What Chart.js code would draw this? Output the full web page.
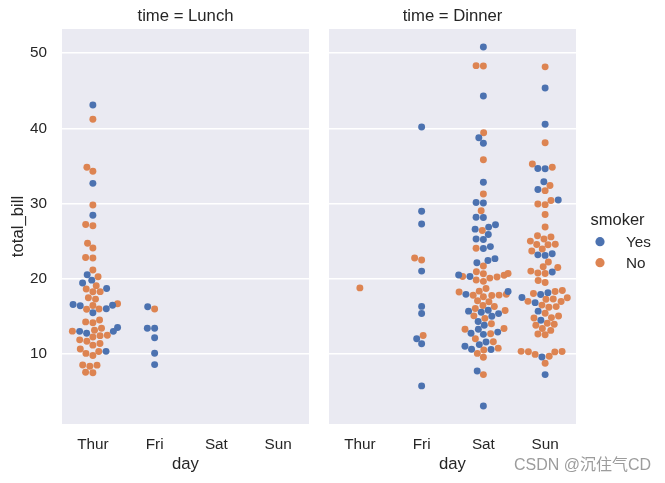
<!DOCTYPE html>
<html>
<head>
<meta charset="utf-8">
<script src="https://cdn.jsdelivr.net/npm/chart.js@4/dist/chart.umd.min.js"></script>
<style>
html,body{margin:0;padding:0;background:#fff;}
#wrap{position:relative;width:665px;height:483px;overflow:hidden;background:#fff;}
#c1{position:absolute;left:0;top:0;}
#c2{position:absolute;left:315px;top:0;}
#wm{position:absolute;left:514px;top:457px;font-size:16px;line-height:16px;font-family:"Liberation Sans","Noto Sans CJK SC",sans-serif;color:#9c9c9c;white-space:nowrap;}
</style>
</head>
<body>
<div id="wrap">
  <canvas id="c1" width="315" height="483"></canvas>
  <canvas id="c2" width="350" height="483"></canvas>
  <div id="wm">CSDN @沉住气CD</div>
</div>
<script>
// ---------------- data ----------------
const days = ['Thur', 'Fri', 'Sat', 'Sun'];
const hues = ['Yes', 'No'];
const yTicks = [10, 20, 30, 40, 50];

// Lunch
const lunchThurYes = [19.44, 32.68, 16.0, 19.81, 28.44, 15.48, 16.58, 10.34, 43.11, 13.0, 13.51, 18.71, 12.74, 13.0, 16.4, 20.53, 16.47];
const lunchThurNo = [27.2, 22.76, 17.29, 16.66, 10.07, 15.98, 34.83, 13.03, 18.28, 24.71, 21.16, 10.65, 12.43, 24.08, 11.69, 13.42, 14.26, 15.95, 12.48, 29.8, 8.52, 14.52, 11.38, 22.82, 19.08, 20.27, 11.17, 12.26, 18.26, 8.51, 10.33, 14.15, 13.16, 17.47, 34.3, 41.19, 27.05, 16.43, 8.35, 18.64, 11.87, 9.78, 7.51, 7.56];
const lunchFriYes = [12.16, 13.42, 8.58, 13.42, 16.27, 10.09];
const lunchFriNo = [15.98];
const lunchSatYes = [], lunchSatNo = [], lunchSunYes = [], lunchSunNo = [];

// Dinner
const dinnerThurYes = [];
const dinnerThurNo = [18.78];
const dinnerFriYes = [28.97, 5.75, 16.32, 40.17, 27.28, 12.03, 21.01, 11.35, 15.38];
const dinnerFriNo = [22.49, 22.75, 12.46];
const dinnerSatYes = [38.01, 11.24, 20.29, 13.81, 11.02, 18.29, 3.07, 15.01, 26.86, 25.28, 17.92, 44.3, 22.42, 15.36, 20.49, 25.21, 14.31, 10.59, 10.63, 50.81, 15.81, 26.59, 38.73, 24.27, 12.76, 30.06, 25.89, 13.27, 28.17, 12.9, 28.15, 11.59, 7.74, 30.14, 22.12, 24.01, 15.69, 15.53, 12.6, 32.83, 27.18, 22.67];
const dinnerSatNo = [20.65, 17.92, 20.29, 15.77, 39.42, 19.82, 17.81, 13.37, 12.69, 21.7, 19.65, 9.55, 18.35, 15.06, 20.69, 17.78, 24.06, 16.31, 16.93, 18.69, 31.27, 16.04, 26.41, 48.27, 17.59, 20.08, 16.45, 20.23, 12.02, 17.07, 14.73, 10.51, 20.92, 18.24, 14.0, 7.25, 48.33, 20.45, 13.28, 11.61, 10.77, 10.07, 35.83, 29.03, 17.82];
const dinnerSunYes = [17.51, 7.25, 31.85, 16.82, 32.9, 17.89, 14.48, 9.6, 34.63, 34.65, 23.33, 45.35, 23.17, 40.55, 20.9, 30.46, 18.15, 23.1, 15.69];
const dinnerSunNo = [16.99, 10.34, 21.01, 23.68, 24.59, 25.29, 8.77, 26.88, 15.04, 14.78, 10.27, 35.26, 15.42, 18.43, 14.83, 21.58, 10.33, 16.29, 16.97, 17.46, 13.94, 9.68, 30.4, 18.29, 22.23, 32.4, 28.55, 18.04, 12.54, 10.29, 34.81, 9.94, 25.56, 19.49, 38.07, 23.95, 25.71, 17.31, 29.93, 14.07, 13.13, 17.26, 24.55, 19.77, 29.85, 48.17, 25.0, 13.39, 16.49, 21.5, 12.66, 16.21, 13.81, 24.52, 20.76, 31.71, 20.69];

const lunchGroups = [[lunchThurYes, lunchThurNo], [lunchFriYes, lunchFriNo], [lunchSatYes, lunchSatNo], [lunchSunYes, lunchSunNo]];
const dinnerGroups = [[dinnerThurYes, dinnerThurNo], [dinnerFriYes, dinnerFriNo], [dinnerSatYes, dinnerSatNo], [dinnerSunYes, dinnerSunNo]];

// ---------------- style ----------------
const COLORS = ['#4C72B0', '#DD8452'];
const TEXT = '#262626';
const BG = '#EAEAF2';
const FONT = '"Liberation Sans", Arial, sans-serif';
const POINT_R = Math.sqrt(25) / 2 * (100 / 72);
Chart.defaults.font.family = FONT;
Chart.defaults.color = TEXT;

const allVals = [...lunchGroups, ...dinnerGroups].flat(2);
const dMin = Math.min(...allVals), dMax = Math.max(...allVals);
const marg = (dMax - dMin) * 0.05;
const yMin = dMin - marg, yMax = dMax + marg;

function buildDatasets(groups) {
  return hues.map((h, hi) => ({
    label: h,
    data: groups.flatMap((g, d) => g[hi].map((v, i) => ({ x: d, y: v, cat: d, ord: hi * 1000 + i }))),
    backgroundColor: COLORS[hi],
    borderWidth: 0,
    pointRadius: POINT_R,
    pointHoverRadius: POINT_R,
    pointBorderWidth: 0
  }));
}

// seaborn-like beeswarm (pixel space, y pointing up)
function beeswarm(orig) {
  if (!orig.length) return [];
  const midline = orig[0].x;
  const swarm = [orig[0]];
  for (let k = 1; k < orig.length; k++) {
    const p = orig[k];
    const neighbors = [];
    for (let j = swarm.length - 1; j >= 0; j--) {
      const q = swarm[j];
      if (p.y - q.y < p.r + q.r) neighbors.push(q); else break;
    }
    neighbors.reverse();
    let cands = [{ x: p.x, y: p.y, r: p.r, ref: p.ref }];
    let leftFirst = true;
    for (const q of neighbors) {
      const dy = p.y - q.y;
      const dx = Math.sqrt(Math.max((p.r + q.r) ** 2 - dy * dy, 0)) * 1.05;
      const cl = { x: q.x - dx, y: p.y, r: p.r, ref: p.ref };
      const cr = { x: q.x + dx, y: p.y, r: p.r, ref: p.ref };
      if (leftFirst) cands.push(cl, cr); else cands.push(cr, cl);
      leftFirst = !leftFirst;
    }
    cands = cands.map((c, i) => ({ c, i, o: Math.abs(c.x - midline) }))
      .sort((a, b) => a.o - b.o || a.i - b.i).map(e => e.c);
    let chosen = cands[0];
    if (neighbors.length) {
      chosen = cands[cands.length - 1];
      for (const c of cands) {
        let ok = true;
        for (const q of neighbors) {
          const ddx = q.x - c.x, ddy = q.y - c.y;
          if (ddx * ddx + ddy * ddy < (q.r + c.r) ** 2) { ok = false; break; }
        }
        if (ok) { chosen = c; break; }
      }
    }
    swarm.push(chosen);
  }
  return swarm;
}

function applySwarm(chart) {
  const xs = chart.scales.x, ys = chart.scales.y;
  const groups = {};
  chart.data.datasets.forEach((ds, di) => ds.data.forEach((p, pi) => {
    (groups[p.cat] = groups[p.cat] || []).push({ di, pi, v: p.y, ord: p.ord });
  }));
  Object.keys(groups).forEach(key => {
    const cat = +key;
    const cx = xs.getPixelForValue(cat);
    const pts = groups[key].map(o => ({ x: cx, y: -ys.getPixelForValue(o.v), r: POINT_R, ref: o }));
    pts.sort((a, b) => a.y - b.y || a.ref.ord - b.ref.ord);
    beeswarm(pts).forEach(p => {
      let xv = xs.getValueForPixel(p.x);
      xv = Math.max(cat - 0.4, Math.min(cat + 0.4, xv)); // gutters
      chart.data.datasets[p.ref.di].data[p.ref.pi].x = xv;
    });
  });
  chart.update('none');
}

const bgPlugin = {
  id: 'panelBg',
  beforeDraw(chart) {
    const { ctx, chartArea: a } = chart;
    ctx.save();
    ctx.fillStyle = BG;
    ctx.fillRect(a.left, a.top, a.right - a.left, a.bottom - a.top);
    ctx.restore();
  }
};

const legendPlugin = {
  id: 'hueLegend',
  afterDraw(chart) {
    const { ctx, chartArea: a } = chart;
    const mid = (a.top + a.bottom) / 2;
    ctx.save();
    ctx.fillStyle = TEXT;
    ctx.textBaseline = 'alphabetic';
    ctx.textAlign = 'center';
    ctx.font = '16.5px ' + FONT;
    ctx.fillText('smoker', a.right + 41.5, mid - 1.8);
    ctx.textAlign = 'left';
    ctx.font = '15.3px ' + FONT;
    chart.data.datasets.forEach((ds, i) => {
      const cy = mid + 15.2 + i * 21;
      ctx.beginPath();
      ctx.fillStyle = ds.backgroundColor;
      ctx.arc(a.right + 24, cy, 4.6, 0, Math.PI * 2);
      ctx.fill();
      ctx.fillStyle = TEXT;
      ctx.fillText(ds.label, a.right + 50, cy + 5.3);
    });
    ctx.restore();
  }
};

function makeChart(canvasId, groups, titleText, isLeft) {
  return new Chart(document.getElementById(canvasId), {
    type: 'scatter',
    data: { datasets: buildDatasets(groups) },
    options: {
      responsive: false,
      maintainAspectRatio: false,
      animation: false,
      events: [],
      layout: { padding: { left: 0, right: isLeft ? 6 : 89, top: 0, bottom: 0 } },
      plugins: {
        legend: { display: false },
        tooltip: { enabled: false },
        title: {
          display: true, text: titleText, fullSize: false, color: TEXT,
          font: { size: 16.7, weight: 'normal' }, padding: { top: 6.5, bottom: 2.5 }
        }
      },
      scales: {
        x: {
          type: 'linear', min: -0.5, max: 3.5,
          afterBuildTicks: s => { s.ticks = days.map((d, i) => ({ value: i })); },
          afterFit: s => { s.height = 59; },
          grid: { display: false, drawTicks: false },
          border: { display: false },
          ticks: { callback: v => days[v], padding: 11.8, maxRotation: 0, autoSkip: false, color: TEXT, font: { size: 15.3 } },
          title: { display: true, text: 'day', color: TEXT, font: { size: 16.7 }, padding: { top: 0, bottom: 8.8 } }
        },
        y: {
          type: 'linear', min: yMin, max: yMax,
          afterBuildTicks: s => { s.ticks = yTicks.map(v => ({ value: v })); },
          afterFit: s => { s.width = isLeft ? 62 : 14; },
          grid: { color: '#ffffff', lineWidth: 1.4, drawTicks: false },
          border: { display: false },
          ticks: { display: isLeft, padding: 15, color: TEXT, font: { size: 15.3 } },
          title: { display: isLeft, text: 'total_bill', color: TEXT, font: { size: 16.7 }, padding: { top: 8, bottom: 0 } }
        }
      }
    },
    plugins: isLeft ? [bgPlugin] : [bgPlugin, legendPlugin]
  });
}

const lunchChart = makeChart('c1', lunchGroups, 'time = Lunch', true);
const dinnerChart = makeChart('c2', dinnerGroups, 'time = Dinner', false);
applySwarm(lunchChart);
applySwarm(dinnerChart);
</script>
</body>
</html>
